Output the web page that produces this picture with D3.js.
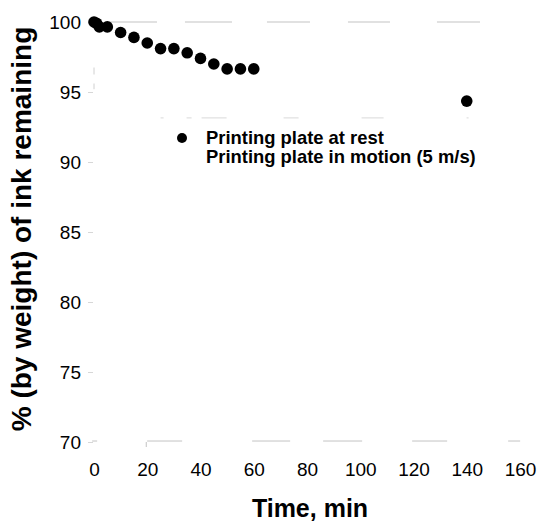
<!DOCTYPE html>
<html>
<head>
<meta charset="utf-8">
<script src="https://cdn.jsdelivr.net/npm/d3@7"></script>
<style>
  html, body { margin: 0; padding: 0; background: #fff; }
  svg { display: block; }
  text { font-family: "Liberation Sans", Arial, sans-serif; fill: #000; }
</style>
</head>
<body>
<svg id="chart" width="537" height="522"></svg>
<script>
// Ink remaining on the printing plate over time
const timeMin = [0, 1, 2, 5, 10, 15, 20, 25, 30, 35, 40, 45, 50, 55, 60, 140];
const inkAtRest = [100, 99.9, 99.65, 99.65, 99.25, 98.9, 98.5, 98.1, 98.1, 97.8, 97.4, 97.0, 96.65, 96.65, 96.65, 94.35];
const xTicks = [0, 20, 40, 60, 80, 100, 120, 140, 160];
const yTicks = [70, 75, 80, 85, 90, 95, 100];
const legendLabels = ["Printing plate at rest", "Printing plate in motion (5 m/s)"];

const svg = d3.select("#chart");
const x = d3.scaleLinear().domain([0, 160]).range([94, 520]);
const y = d3.scaleLinear().domain([70, 100]).range([442, 22]);

// faint, broken frame lines (dash patterns in px)
const faint = "#b4b4b4";
function brokenH(x0, yv, dashes, color) {
  const total = d3.sum(dashes) + 200;
  svg.append("line")
    .attr("x1", x0).attr("x2", x0 + total)
    .attr("y1", yv).attr("y2", yv)
    .attr("stroke", color).attr("stroke-width", 0.8)
    .attr("stroke-dasharray", dashes.concat([2000]).join(","));
}
brokenH(x(6), y(100), [47, 28, 47, 35, 43, 38, 42, 47, 43], faint);
brokenH(x(-0.7), y(70.07), [5, 50, 35, 70, 38, 33, 39, 50, 35, 61, 12], faint);
brokenH(x(25), y(93.15), [3, 23, 5, 10, 25, 57, 15, 63, 22, 83, 2], "#cfcfcf");
svg.append("line")
  .attr("x1", x(0)).attr("x2", x(0))
  .attr("y1", y(96.75)).attr("y2", y(95.2))
  .attr("stroke", "#c4c4c4").attr("stroke-width", 0.8)
  .attr("stroke-dasharray", "7,9,10");
svg.append("line")
  .attr("x1", x(20) - 1).attr("x2", x(20) - 1)
  .attr("y1", y(70)).attr("y2", y(70) + 5)
  .attr("stroke", faint).attr("stroke-width", 0.8);

// y axis
const yAxis = svg.append("g")
  .attr("transform", `translate(${x(0)},0)`)
  .call(d3.axisLeft(y).tickValues(yTicks).tickSize(5).tickPadding(8));
yAxis.select(".domain").remove();
yAxis.selectAll(".tick line")
  .attr("stroke", "#cdcdcd").attr("stroke-width", 0.8)
  .attr("transform", "translate(-1,0)");
yAxis.selectAll(".tick text")
  .attr("font-size", 19).attr("font-family", "Liberation Sans, Arial, sans-serif")
  .attr("fill", "#000");

// x axis
const xAxis = svg.append("g")
  .attr("transform", `translate(0,${y(70)})`)
  .call(d3.axisBottom(x).tickValues(xTicks).tickSize(0).tickPadding(21));
xAxis.select(".domain").remove();
xAxis.selectAll(".tick text")
  .attr("font-size", 19).attr("font-family", "Liberation Sans, Arial, sans-serif")
  .attr("fill", "#000");

// data points
svg.append("g").selectAll("circle")
  .data(timeMin.map((t, i) => ({ t, v: inkAtRest[i] })))
  .join("circle")
  .attr("cx", d => x(d.t))
  .attr("cy", d => y(d.v))
  .attr("r", 5.8)
  .attr("fill", "#000");

// legend
const legend = svg.append("g");
legend.append("circle").attr("cx", 182).attr("cy", 138).attr("r", 5).attr("fill", "#000");
legend.selectAll("text.lab")
  .data(legendLabels)
  .join("text")
  .attr("class", "lab")
  .attr("x", 206)
  .attr("y", (d, i) => 144 + i * 19)
  .attr("font-size", 18.4)
  .attr("font-weight", "bold")
  .text(d => d);

// axis titles
svg.append("text")
  .attr("x", 310).attr("y", 517)
  .attr("text-anchor", "middle")
  .attr("font-size", 25).attr("font-weight", "bold")
  .text("Time, min");

svg.append("text")
  .attr("transform", "translate(31,229) rotate(-90)")
  .attr("text-anchor", "middle")
  .attr("font-size", 28).attr("font-weight", "bold")
  .text("% (by weight) of ink remaining");
</script>
</body>
</html>
